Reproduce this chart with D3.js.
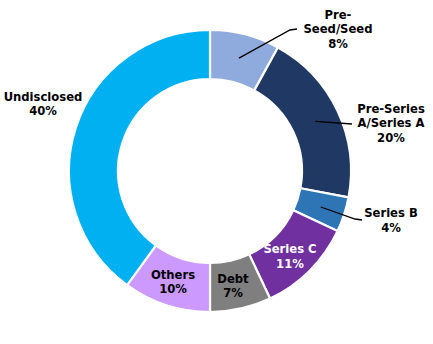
<!DOCTYPE html>
<html>
<head>
<meta charset="utf-8">
<script src="https://cdn.jsdelivr.net/npm/d3@7"></script>
<style>
html,body{margin:0;padding:0;background:#fff;}
text{font-family:"DejaVu Sans",sans-serif;font-weight:700;font-size:11.6px;}
</style>
</head>
<body>
<script>
// ---- data ----
const categories = ["Pre-Seed/Seed","Pre-Series A/Series A","Series B","Series C","Debt","Others","Undisclosed"];
const values = [8, 20, 4, 11, 7, 10, 40];
const labelLines = [["Pre-","Seed/Seed"],["Pre-Series","A/Series A"],["Series B"],["Series C"],["Debt"],["Others"],["Undisclosed"]];
const colors = ["#8faadc","#203864","#2e75b6","#7030a0","#7f7f7f","#cc99ff","#00b0f0"];

// ---- layout (not data) ----
const W = 433, H = 344, cx = 210, cy = 171, rOut = 141, rIn = 92;
// label placement: text-block centre offset from chart centre, text colour, optional leader elbow/end
const layout = [
  {tx: 128, ty: -142, elbow: [80, -141], end: [87, -142]},
  {tx: 181, ty: -48, elbow: null, end: [142, -47]},
  {tx: 181, ty: 49.5, elbow: [145, 48], end: [152, 49]},
  {tx: 80, ty: 85.5, fill: "#fff"},
  {tx: 23, ty: 115},
  {tx: -37, ty: 111},
  {tx: -167, ty: -67}
];

const svg = d3.select("body").append("svg").attr("width", W).attr("height", H);
const g = svg.append("g").attr("transform", `translate(${cx},${cy})`);

const pie = d3.pie().sort(null).value(d => d)(values);
const arc = d3.arc().innerRadius(rIn).outerRadius(rOut);
const color = d3.scaleOrdinal().domain(categories).range(colors);

g.selectAll("path.slice").data(pie).join("path")
  .attr("class","slice")
  .attr("d", arc)
  .attr("fill", (d,i) => color(categories[i]))
  .attr("stroke", "#fff").attr("stroke-width", 2.2);

// leader lines
pie.forEach((d,i) => {
  const L = layout[i];
  if (!L.end) return;
  const c = arc.centroid(d);
  const pts = [c];
  if (L.elbow) pts.push(L.elbow);
  pts.push(L.end);
  g.append("path").attr("d", d3.line()(pts))
    .attr("fill","none").attr("stroke","#000").attr("stroke-width",1.3);
});

// labels
const lh = 14.5;
pie.forEach((d,i) => {
  const L = layout[i];
  const lines = labelLines[i].concat([values[i] + "%"]);
  const n = lines.length;
  const t = g.append("text").attr("text-anchor","middle").attr("fill", L.fill || "#000");
  lines.forEach((s,k) => {
    t.append("tspan").attr("x", L.tx)
      .attr("y", L.ty + (k - (n-1)/2) * lh)
      .attr("dy", "0.36em").text(s);
  });
});
</script>
</body>
</html>
